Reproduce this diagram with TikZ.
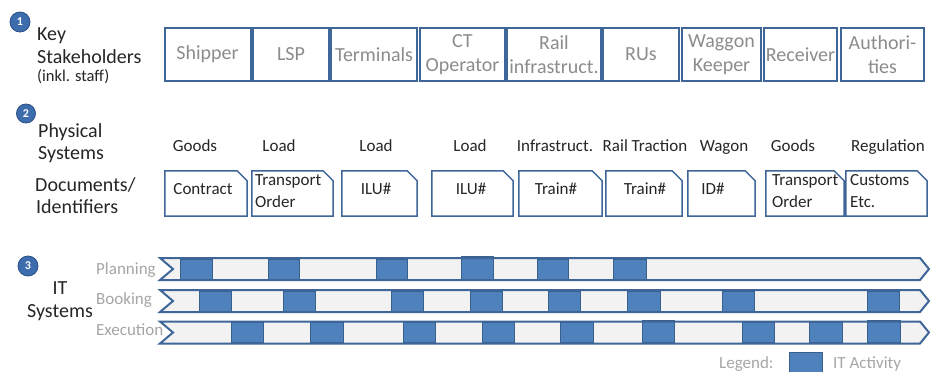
\documentclass[tikz,border=0pt]{standalone}
\usepackage{fontspec}
\setmainfont{Carlito}
\definecolor{bordblue}{HTML}{3F6698}
\definecolor{actblue}{HTML}{4F81BD}
\definecolor{actedge}{HTML}{37608F}
\definecolor{barfill}{HTML}{F2F2F2}
\definecolor{shgray}{HTML}{8C8C8C}
\definecolor{lblgray}{HTML}{A6A6A6}
\definecolor{txt}{HTML}{262626}
\definecolor{numblue}{HTML}{3E6DAE}
\definecolor{numedge}{HTML}{2C4F85}
\tikzset{
  stake/.style={draw=bordblue, line width=2pt, minimum height=53pt, inner sep=0pt,
    text=shgray, font=\fontsize{20}{24}\selectfont, align=center},
  cat/.style={text=txt, font=\fontsize{17}{20}\selectfont, inner sep=0pt, anchor=base},
  docnode/.style={minimum height=45pt, inner sep=0pt},
  doctxt/.style={text=txt, font=\fontsize{17}{22}\selectfont, align=left, inner sep=0pt},
  docframe/.style={draw=bordblue, line width=1.5pt, fill=white, line join=miter},
  numcirc/.style={circle, fill=numblue, draw=numedge, line width=0.8pt, text=white,
    minimum size=20pt, inner sep=0pt, font=\fontsize{12}{12}\selectfont\bfseries},
  heading/.style={text=txt, font=\fontsize{20}{23}\selectfont, inner sep=0pt, anchor=base west},
  smallhead/.style={text=txt, font=\fontsize{16.5}{20}\selectfont, inner sep=0pt, anchor=base west},
  rowlbl/.style={text=lblgray, font=\fontsize{17}{20}\selectfont, inner sep=0pt, anchor=base west},
  barbody/.style={fill=barfill},
  barline/.style={draw=bordblue, line width=2pt, line join=miter},
  act/.style={fill=actblue, draw=actedge, line width=1pt},
}
\begin{document}
\begin{tikzpicture}[x=1pt, y=-1pt]
\useasboundingbox[fill=white] (0,0) rectangle (930,372);

% ---- Section 1
\node[numcirc] (n1) at (20,22) {1};
\node[heading] (h1a) at (37,40) {Key};
\node[heading] (h1b) at (37,63) {Stakeholders};
\node[smallhead] (h1c) at (37,81) {(inkl. staff)};

\node[stake, minimum width=86pt] (shipper) at (207.5,54.5) {Shipper};
\node[stake, minimum width=76pt] (lsp) at (291,54.5) {LSP};
\node[stake, minimum width=86pt] (term) at (374,54.5) {Terminals};
\node[stake, minimum width=85pt] (ctop) at (462.5,54.5) {CT\\Operator};
\node[stake, minimum width=94pt] (rinf) at (554,54.5) {Rail\\infrastruct.};
\node[stake, minimum width=76pt] (rus) at (641,54.5) {RUs};
\node[stake, minimum width=79pt] (wk) at (721.5,54.5) {Waggon\\Keeper};
\node[stake, minimum width=73pt] (recv) at (800.5,54.5) {Receiver};
\node[stake, minimum width=83pt] (auth) at (882.5,54.5) {Authori-\\ties};

% ---- Section 2
\node[numcirc, minimum size=19pt] (n2) at (26,113.5) {2};
\node[heading] (h2a) at (38,137.5) {Physical};
\node[heading] (h2b) at (38,159.5) {Systems};
\node[heading] (h2c) at (35,191) {Documents/};
\node[heading] (h2d) at (36,213) {Identifiers};

\node[cat] (c1) at (195,151) {Goods};
\node[cat] (c2) at (279,151) {Load};
\node[cat] (c3) at (376,151) {Load};
\node[cat] (c4) at (470,151) {Load};
\node[cat] (c5) at (555,151) {Infrastruct.};
\node[cat] (c6) at (645,151) {Rail Traction};
\node[cat] (c7) at (724,151) {Wagon};
\node[cat] (c8) at (793,151) {Goods};
\node[cat] (c9) at (888,151) {Regulation};

\foreach \n/\a/\b in {1/165/247, 2/252/333, 3/342/417, 4/432/513, 5/519/602,
                      6/606/682, 7/688/755, 8/766/844, 9/846/927} {
  \node[docnode, minimum width={\b-\a}] (d\n) at ({(\a+\b)/2},193.5) {};
  \draw[docframe] (d\n.south west) -- (d\n.north west) -- ([xshift=-10pt]d\n.north east)
     -- ([yshift=-10pt]d\n.north east) -- (d\n.south east) -- cycle;
}
\node[doctxt] (t1) at (203,189) {Contract};
\node[doctxt, anchor=base west] (t2) at (255,207) {Transport\\Order};
\node[doctxt] (t3) at (376,189) {ILU\#};
\node[doctxt] (t4) at (471,189) {ILU\#};
\node[doctxt] (t5) at (556,189) {Train\#};
\node[doctxt] (t6) at (645,189) {Train\#};
\node[doctxt] (t7) at (713,189) {ID\#};
\node[doctxt, anchor=base west] (t8) at (772,207) {Transport\\Order};
\node[doctxt, anchor=base west] (t9) at (850,207) {Customs\\Etc.};

% ---- Section 3
\node[numcirc] (n3) at (28,266) {3};
\node[text=txt, font=\fontsize{20}{23}\selectfont, align=center, inner sep=0pt, anchor=base]
  (h3) at (60,317) {IT\\Systems};

\node[rowlbl] (rp) at (96,274) {Planning};
\node[rowlbl] (rb) at (96,304) {Booking};
\node[rowlbl] (re) at (96,335) {Execution};

% bars: fill, activities, outline
\foreach \y in {258,290,321.5} {
  \fill[barbody] (160,\y) -- (920,\y) -- (929,\y+11) -- (920,\y+22) -- (160,\y+22) -- (173,\y+11) -- cycle;
}
% planning
\foreach \a/\b/\t in {180/212/259, 268/299/259, 376/407/259, 461/493/256.5, 537/568/259, 613/646/259}
  \draw[act] (\a,\t) rectangle (\b,279);
% booking
\foreach \a/\b in {199/231, 283/315, 391/423, 470/502, 548/580, 627/660, 722/754, 867/899}
  \draw[act] (\a,291) rectangle (\b,311);
% execution
\foreach \a/\b/\t in {231/263/322.5, 310/343/322.5, 403/435/322.5, 482/514/322.5, 560/593/322.5,
                      642/674/320, 742/774/322.5, 809/842/322.5, 867/900/320}
  \draw[act] (\a,\t) rectangle (\b,342.5);
\foreach \y in {258,290,321.5} {
  \draw[barline] (160,\y) -- (920,\y) -- (929,\y+11) -- (920,\y+22) -- (160,\y+22) -- (173,\y+11) -- cycle;
}

% ---- Legend
\node[rowlbl] (lg) at (719,368) {Legend:};
\node[act, minimum width=33pt, minimum height=22pt, inner sep=0pt] (legbox) at (805.5,363) {};
\node[rowlbl] (lgt) at (833,368) {IT Activity};
\end{tikzpicture}
\end{document}
